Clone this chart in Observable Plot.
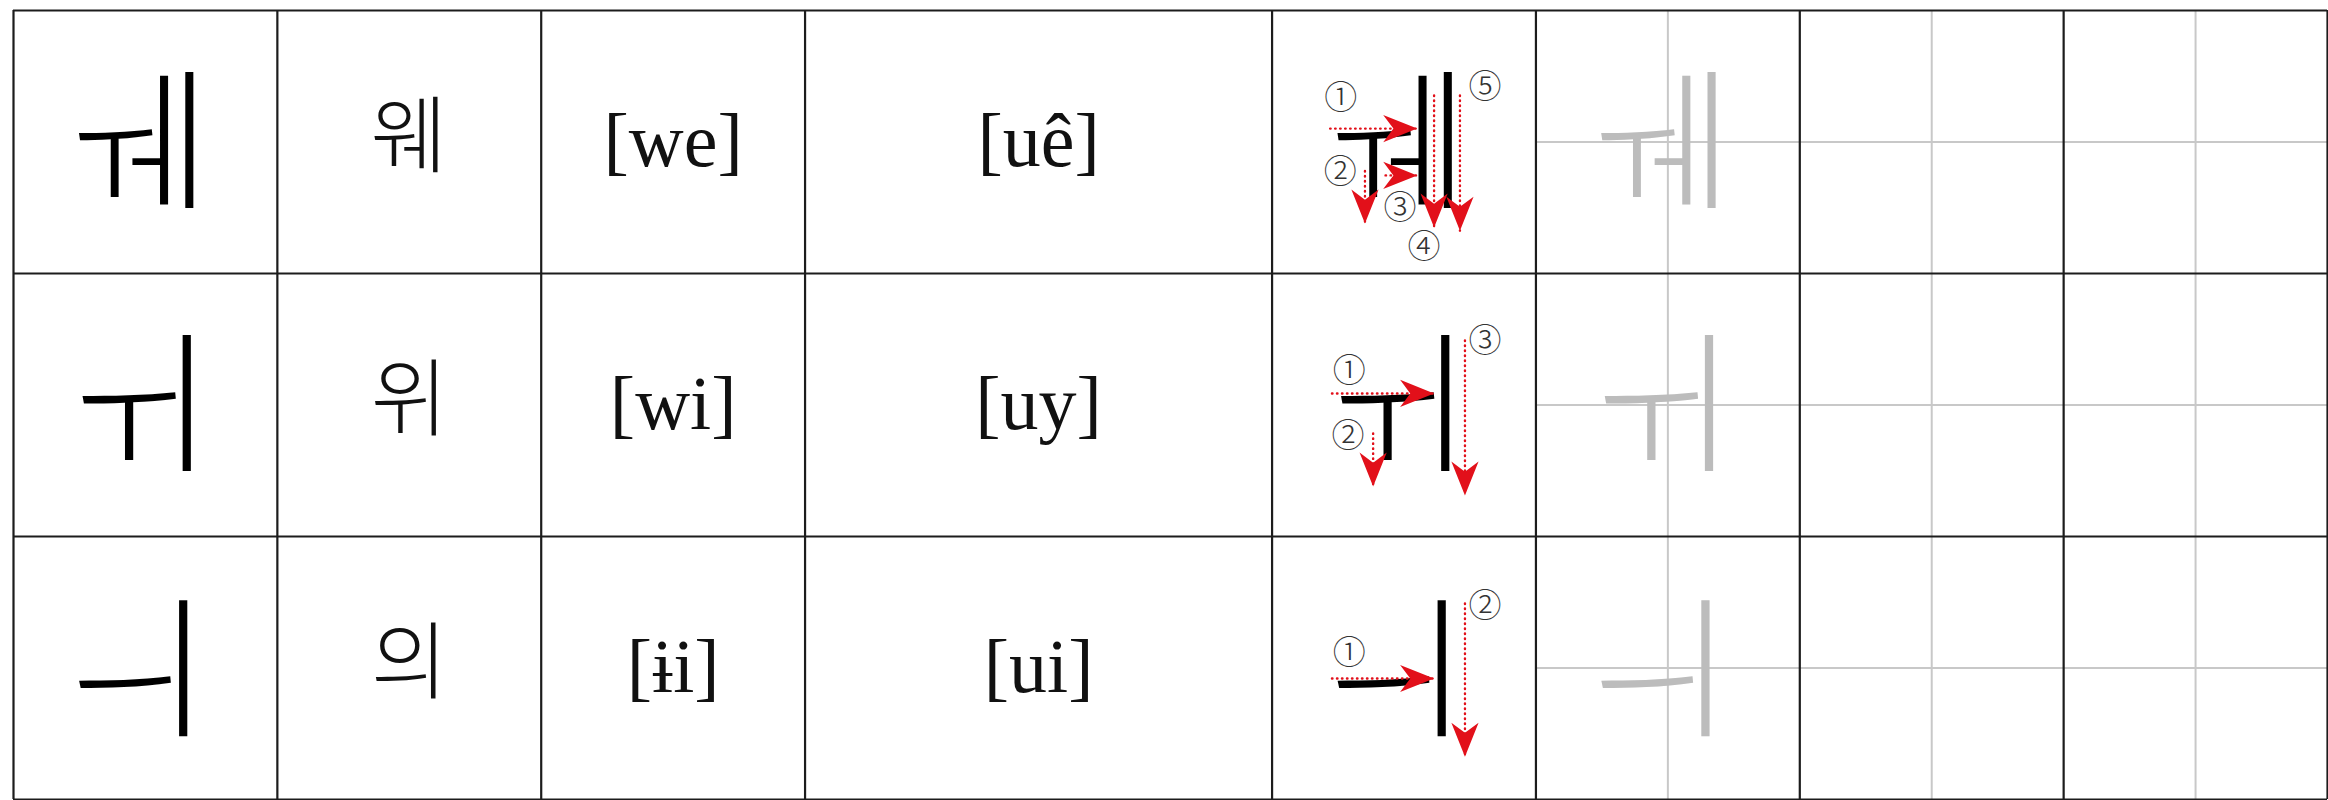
<!DOCTYPE html>
<html><head><meta charset="utf-8">
<script src="https://cdn.jsdelivr.net/npm/d3@7"></script>
<script src="https://cdn.jsdelivr.net/npm/@observablehq/plot@0.6"></script>
<style>html,body{margin:0;padding:0;background:#fff;overflow:hidden}</style>
</head><body><div id="chart"></div>
<script>
// ---- data ----
const vowels = ["ㅞ", "ㅟ", "ㅢ"];
const syllables = ["웨", "위", "의"];
const ipa = ["[we]", "[wi]", "[ɨi]"];
const romanization = ["[uê]", "[uy]", "[ui]"];
const columns = ["vowel", "syllable", "ipa", "roman", "order", "trace", "practice1", "practice2"];
const columnSpan = [1, 1, 1, 1.77, 1, 1, 1, 1];
const circled = ["①", "②", "③", "④", "⑤"];
// stroke-order guides: row, stroke number, direction, start/end (fractions of the cell), label position
const strokeGuides = [
  {row: 0, n: 1, dir: "right", x1: .22, y1: .449, x2: .55, y2: .449, lx: .26, ly: .335},
  {row: 0, n: 2, dir: "down", x1: .352, y1: .61, x2: .352, y2: .81, lx: .258, ly: .616},
  {row: 0, n: 3, dir: "right", x1: .43, y1: .627, x2: .55, y2: .627, lx: .485, ly: .753},
  {row: 0, n: 4, dir: "down", x1: .614, y1: .323, x2: .614, y2: .825, lx: .576, ly: .90},
  {row: 0, n: 5, dir: "down", x1: .712, y1: .323, x2: .712, y2: .837, lx: .807, ly: .293},
  {row: 1, n: 1, dir: "right", x1: .227, y1: .456, x2: .614, y2: .456, lx: .292, ly: .373},
  {row: 1, n: 2, dir: "down", x1: .383, y1: .608, x2: .383, y2: .81, lx: .288, ly: .62},
  {row: 1, n: 3, dir: "down", x1: .731, y1: .255, x2: .731, y2: .844, lx: .807, ly: .259},
  {row: 2, n: 1, dir: "right", x1: .227, y1: .54, x2: .614, y2: .54, lx: .292, ly: .445},
  {row: 2, n: 2, dir: "down", x1: .731, y1: .255, x2: .731, y2: .837, lx: .807, ly: .266}
];

// ---- layout helpers ----
const colStart = [];
let acc = 0;
for (const w of columnSpan) { colStart.push(acc); acc += w; }
const total = acc;
const colMid = columnSpan.map((w, i) => colStart[i] + w / 2);
const col = name => columns.indexOf(name);
const boundaries = [...colStart, total];
const rows = d3.range(vowels.length);
const rowMid = rows.map(r => r + 0.5);

const rowsData = rows.map(i => ({i, vowel: vowels[i], syllable: syllables[i], ipa: ipa[i], roman: romanization[i]}));

const oc = col("order");
const gx = f => colStart[oc] + f * columnSpan[oc];
const guides = strokeGuides.map(d => ({
  ...d,
  X1: gx(d.x1), X2: gx(d.x2), Y1: d.row + d.y1, Y2: d.row + d.y2,
  LX: gx(d.lx), LY: d.row + d.ly, label: circled[d.n - 1]
}));

const headDown = {draw(ctx, size) {
  const r = Math.sqrt(size / Math.PI);
  ctx.moveTo(0, 0); ctx.lineTo(-0.8 * r, -2 * r); ctx.lineTo(0, -1.4 * r); ctx.lineTo(0.8 * r, -2 * r); ctx.closePath();
}};
const headRight = {draw(ctx, size) {
  const r = Math.sqrt(size / Math.PI);
  ctx.moveTo(0, 0); ctx.lineTo(-2 * r, -0.8 * r); ctx.lineTo(-1.4 * r, 0); ctx.lineTo(-2 * r, 0.8 * r); ctx.closePath();
}};

const jamoFont = "'Noto Sans CJK KR', sans-serif";
const serif = "'Liberation Serif', 'DejaVu Serif', serif";
const RED = "#e2101a";
const practiceCols = [col("trace"), col("practice1"), col("practice2")];
const jamo = {fontFamily: jamoFont, fontWeight: 300, fontSize: 155, dx: -8, dy: 4};

const chart = Plot.plot({
  width: 2328,
  height: 800,
  margin: 0,
  style: {background: "#fff"},
  x: {domain: [0, total], range: [13, 2327], axis: null},
  y: {domain: [0, 3], range: [10, 799], axis: null},
  marks: [
    // light guide lines in practice cells
    Plot.ruleX(practiceCols.map(i => colMid[i]), {y1: 0, y2: 3, stroke: "#c8c8c8", strokeWidth: 2}),
    Plot.ruleY(rowMid, {x1: colStart[col("trace")], x2: total, stroke: "#c8c8c8", strokeWidth: 2}),
    // faded tracing glyph
    Plot.text(rowsData, {x: colMid[col("trace")], y: d => d.i + 0.5, text: "vowel", ...jamo, fill: "#bcbcbc"}),
    // table grid
    Plot.ruleX(boundaries, {y1: 0, y2: 3, stroke: "#1c1c1c", strokeWidth: 2.2}),
    Plot.ruleY(d3.range(4), {x1: 0, x2: total, stroke: "#1c1c1c", strokeWidth: 2.2}),
    // content
    Plot.text(rowsData, {x: colMid[col("vowel")], y: d => d.i + 0.5, text: "vowel", ...jamo, fill: "#000"}),
    Plot.text(rowsData, {x: colMid[col("syllable")], y: d => d.i + 0.5, text: "syllable", fontFamily: jamoFont, fontWeight: 300, fontSize: 84, fill: "#111", dy: -3}),
    Plot.text(rowsData, {x: colMid[col("ipa")], y: d => d.i + 0.5, text: "ipa", fontFamily: serif, fontSize: 76, fill: "#111"}),
    Plot.text(rowsData, {x: colMid[col("roman")], y: d => d.i + 0.5, text: "roman", fontFamily: serif, fontSize: 76, fill: "#111"}),
    // stroke-order cell
    Plot.text(rowsData, {x: colMid[oc], y: d => d.i + 0.5, text: "vowel", ...jamo, fill: "#000"}),
    Plot.link(guides, {x1: "X1", y1: "Y1", x2: "X2", y2: "Y2", stroke: RED, strokeWidth: 2.4, strokeDasharray: "0.5,4.5", strokeLinecap: "round"}),
    Plot.dot(guides.filter(d => d.dir === "down"), {x: "X2", y: "Y2", symbol: headDown, r: 17, fill: RED, stroke: "none"}),
    Plot.dot(guides.filter(d => d.dir === "right"), {x: "X2", y: "Y2", symbol: headRight, r: 17, fill: RED, stroke: "none"}),
    Plot.text(guides, {x: "LX", y: "LY", text: "label", fontFamily: jamoFont, fontWeight: 300, fontSize: 33, fill: "#333"})
  ]
});
document.getElementById("chart").appendChild(chart);
</script>
</body></html>
